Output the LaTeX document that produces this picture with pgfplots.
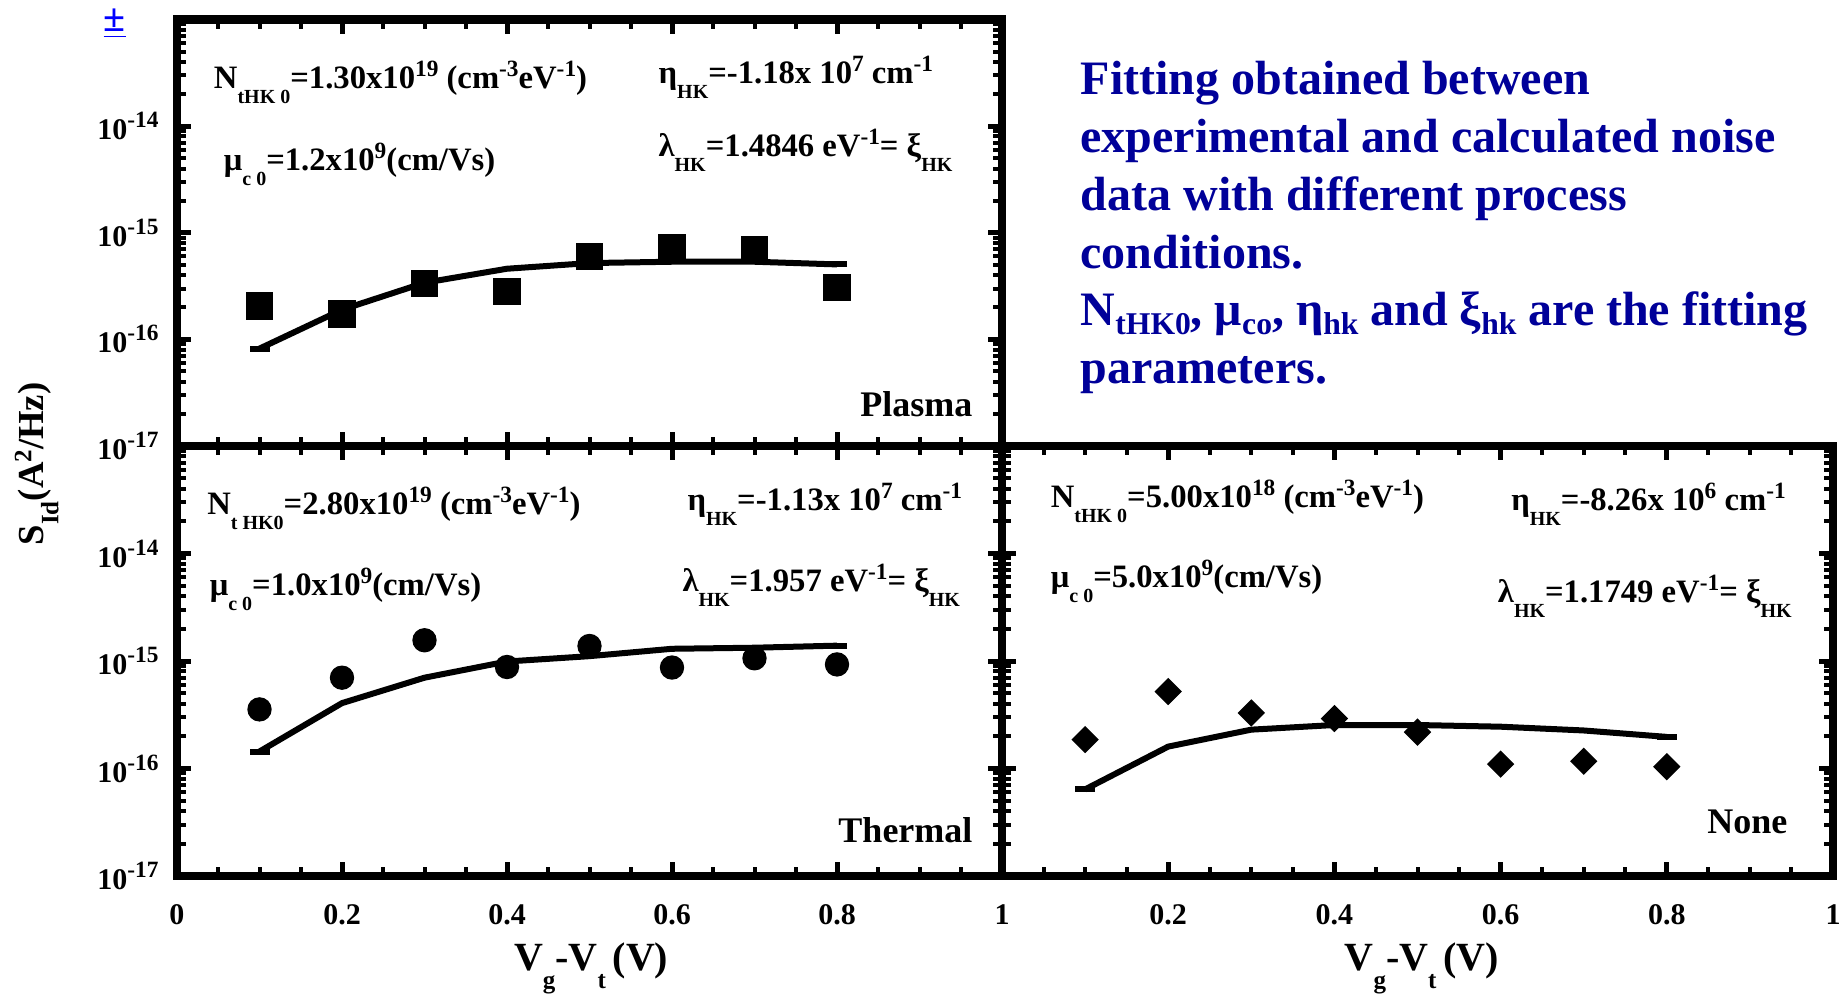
\documentclass[border=0pt]{standalone}
\usepackage{fontspec}
\setmainfont{Liberation Serif}
\usepackage{pgfplots}
\pgfplotsset{compat=1.18}

\definecolor{txtblue}{RGB}{0,0,153}
% lowered / raised small text, as in the original slide
\newcommand\lo[2][6]{\raisebox{-4.5pt}{\fontsize{#1}{#1}\selectfont #2}}
\newcommand\hi[2][7]{\raisebox{3.6pt}{\fontsize{#1}{#1}\selectfont #2}}
\newcommand\ann{\fontsize{9.8}{11}\selectfont\bfseries}
\newcommand\bigtxt[1]{\fontsize{14.4}{17}\selectfont\bfseries\color{txtblue}#1}
\newcommand\xlab{\fontsize{12}{14}\selectfont\bfseries V\raisebox{-5.5pt}{\fontsize{7.5}{8}\selectfont g}-V\raisebox{-5.5pt}{\fontsize{7.5}{8}\selectfont t}\kern2pt(V)}

\pgfplotsset{
  mypanel/.style={
    scale only axis, anchor=south west, clip=false,
    xmin=0, xmax=1, ymin=1e-17, ymax=1e-13,
    axis line style={line width=2.5pt},
    tick align=inside,
    major tick length=4.2pt, minor tick length=2.7pt,
    major tick style={line width=1.5pt,black},
    minor tick style={line width=1.2pt,black},
    xtick={0,0.2,0.4,0.6,0.8,1}, minor x tick num=3,
    ytick={1e-17,1e-16,1e-15,1e-14,1e-13},
    xticklabels={0,0.2,0.4,0.6,0.8,1},
    yticklabels={10\hi{-17},10\hi{-16},10\hi{-15},10\hi{-14},},
    tick label style={font=\fontsize{9}{10}\selectfont\bfseries},
    xticklabel style={yshift=-5pt},
    yticklabel style={xshift=-2pt},
  },
  myfit/.style={black, line width=1.8pt, line join=round, mark=-, mark indices={1,8},
    mark size=3pt, mark options={line width=1.8pt}},
  mymeas/.style={only marks, black, mark options={fill=black}},
}

\begin{document}
\begin{tikzpicture}
\path[use as bounding box] (0,0) rectangle (554.1pt,297.9pt);

% Plasma
\begin{semilogyaxis}[mypanel, at={(53.1pt,164.1pt)}, width=247.5pt, height=127.95pt, xticklabels={}]
\addplot[mymeas, mark=square*, mark size=3.9pt] coordinates {
  (0.1,2.05e-16) (0.2,1.73e-16) (0.3,3.33e-16) (0.4,2.8e-16)
  (0.5,6.0e-16) (0.6,7.3e-16) (0.7,7.0e-16) (0.8,3.05e-16)};
\addplot[myfit] coordinates {
  (0.1,8.2e-17) (0.2,1.9e-16) (0.3,3.4e-16) (0.4,4.6e-16)
  (0.5,5.2e-16) (0.6,5.35e-16) (0.7,5.35e-16) (0.8,5.05e-16)};
\node[anchor=base west, inner sep=0] at (rel axis cs:0.044,0.839) {\ann N\lo{tHK 0}=1.30x10\hi{19} (cm\hi{-3}eV\hi{-1})};
\node[anchor=base west, inner sep=0] at (rel axis cs:0.583,0.851) {\ann η\lo{HK}=-1.18x 10\hi{7} cm\hi{-1}};
\node[anchor=base west, inner sep=0] at (rel axis cs:0.056,0.647) {\ann μ\lo{c 0}=1.2x10\hi{9}(cm/Vs)};
\node[anchor=base west, inner sep=0] at (rel axis cs:0.583,0.678) {\ann λ\lo{HK}=1.4846 eV\hi{-1}= ξ\lo{HK}};
\node[anchor=base east, inner sep=0] at (rel axis cs:0.965,0.069) {\fontsize{10.8}{12}\selectfont\bfseries Plasma};
\end{semilogyaxis}

% Thermal
\begin{semilogyaxis}[mypanel, at={(53.1pt,35.1pt)}, width=247.5pt, height=129pt]
\addplot[mymeas, mark=*, mark size=3.45pt] coordinates {
  (0.1,3.55e-16) (0.2,7.0e-16) (0.3,1.56e-15) (0.4,8.8e-16)
  (0.5,1.38e-15) (0.6,8.7e-16) (0.7,1.06e-15) (0.8,9.3e-16)};
\addplot[myfit] coordinates {
  (0.1,1.44e-16) (0.2,4.06e-16) (0.3,7.0e-16) (0.4,9.9e-16)
  (0.5,1.11e-15) (0.6,1.3e-15) (0.7,1.33e-15) (0.8,1.39e-15)};
\node[anchor=base west, inner sep=0] at (rel axis cs:0.036,0.84) {\ann N\lo{t HK0}=2.80x10\hi{19} (cm\hi{-3}eV\hi{-1})};
\node[anchor=base west, inner sep=0] at (rel axis cs:0.618,0.851) {\ann η\lo{HK}=-1.13x 10\hi{7} cm\hi{-1}};
\node[anchor=base west, inner sep=0] at (rel axis cs:0.039,0.653) {\ann μ\lo{c 0}=1.0x10\hi{9}(cm/Vs)};
\node[anchor=base west, inner sep=0] at (rel axis cs:0.612,0.662) {\ann λ\lo{HK}=1.957 eV\hi{-1}= ξ\lo{HK}};
\node[anchor=base east, inner sep=0] at (rel axis cs:0.965,0.079) {\fontsize{10.8}{12}\selectfont\bfseries Thermal};
\node[anchor=base, inner sep=0] at (rel axis cs:0.502,-0.22) {\xlab};
\end{semilogyaxis}

% None
\begin{semilogyaxis}[mypanel, at={(300.6pt,35.1pt)}, width=249.3pt, height=129pt,
  yticklabels={}, xticklabels={,0.2,0.4,0.6,0.8,1}]
\addplot[mymeas, mark=square*, mark size=2.7pt, mark options={rotate=45}] coordinates {
  (0.1,1.86e-16) (0.2,5.2e-16) (0.3,3.29e-16) (0.4,2.92e-16)
  (0.5,2.18e-16) (0.6,1.1e-16) (0.7,1.17e-16) (0.8,1.04e-16)};
\addplot[myfit] coordinates {
  (0.1,6.4e-17) (0.2,1.6e-16) (0.3,2.3e-16) (0.4,2.54e-16)
  (0.5,2.54e-16) (0.6,2.45e-16) (0.7,2.26e-16) (0.8,1.97e-16)};
\node[anchor=base west, inner sep=0] at (rel axis cs:0.058,0.858) {\ann N\lo{tHK 0}=5.00x10\hi{18} (cm\hi{-3}eV\hi{-1})};
\node[anchor=base west, inner sep=0] at (rel axis cs:0.612,0.849) {\ann η\lo{HK}=-8.26x 10\hi{6} cm\hi{-1}};
\node[anchor=base west, inner sep=0] at (rel axis cs:0.058,0.67) {\ann μ\lo{c 0}=5.0x10\hi{9}(cm/Vs)};
\node[anchor=base west, inner sep=0] at (rel axis cs:0.596,0.636) {\ann λ\lo{HK}=1.1749 eV\hi{-1}= ξ\lo{HK}};
\node[anchor=base east, inner sep=0] at (rel axis cs:0.946,0.1) {\fontsize{10.8}{12}\selectfont\bfseries None};
\node[anchor=base, inner sep=0] at (rel axis cs:0.505,-0.22) {\xlab};
\end{semilogyaxis}

% shared y label
\node[rotate=90, inner sep=0] at (11pt,158.7pt) {\fontsize{11}{12}\selectfont\bfseries S\lo[7.5]{Id}(A\hi[7.5]{2}/Hz)};
% stray symbol at the top left
\node[inner sep=0, text=blue] at (34.4pt,290.8pt) {\fontsize{12}{12}\selectfont\bfseries\underline{±}};

% text block on the right
\node[anchor=base west, inner sep=0] at (324pt,269.4pt) {\bigtxt{Fitting obtained between}};
\node[anchor=base west, inner sep=0] at (324pt,252.1pt) {\bigtxt{experimental and calculated noise}};
\node[anchor=base west, inner sep=0] at (324pt,234.8pt) {\bigtxt{data with different process}};
\node[anchor=base west, inner sep=0] at (324pt,217.5pt) {\bigtxt{conditions.}};
\node[anchor=base west, inner sep=0] at (324pt,200.2pt) {\bigtxt{N\raisebox{-2.5pt}{\fontsize{9.5}{9.5}\selectfont tHK0}, μ\raisebox{-2.5pt}{\fontsize{9.5}{9.5}\selectfont co}, η\raisebox{-2.5pt}{\fontsize{9.5}{9.5}\selectfont hk} and ξ\raisebox{-2.5pt}{\fontsize{9.5}{9.5}\selectfont hk} are the fitting}};
\node[anchor=base west, inner sep=0] at (324pt,182.9pt) {\bigtxt{parameters.}};
\end{tikzpicture}
\end{document}
